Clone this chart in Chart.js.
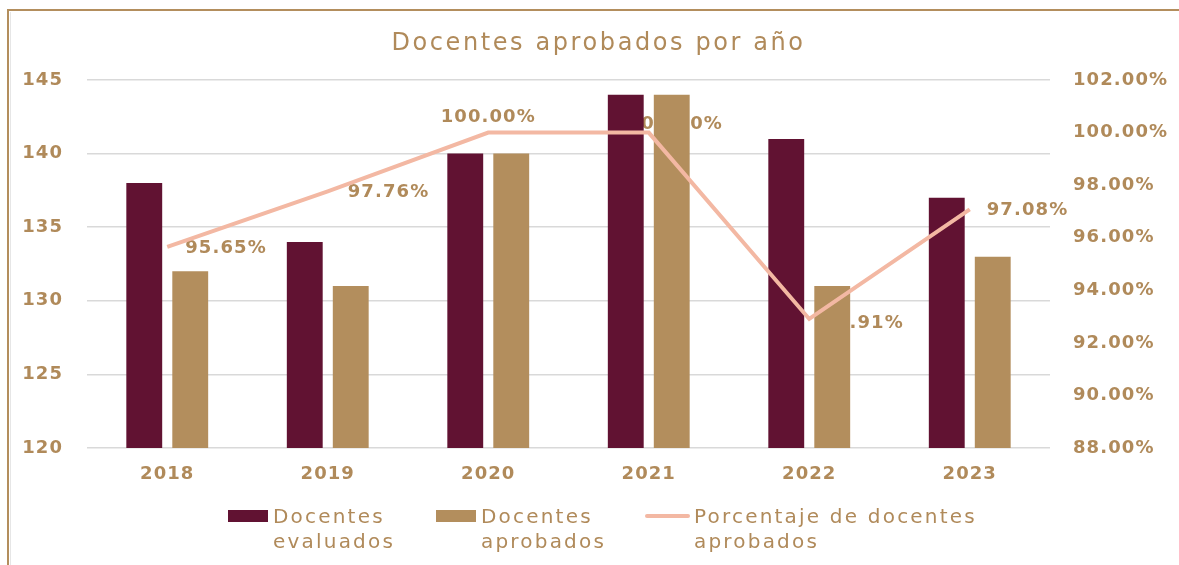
<!DOCTYPE html>
<html><head><meta charset="utf-8">
<script src="https://cdn.jsdelivr.net/npm/chart.js@4/dist/chart.umd.min.js"></script>
<style>
html,body{margin:0;padding:0;background:#fff;}
#wrap{position:relative;width:1179px;height:565px;overflow:hidden;background:#fff;}
#frame{position:absolute;left:7px;top:9px;width:1300px;height:700px;border-left:2px solid #B38E5D;border-top:2px solid #B38E5D;}
#frame2{position:absolute;left:10px;top:12px;width:1300px;height:700px;border-left:1px solid #e6e6e6;}
canvas{position:absolute;left:0;top:0;}
#title{position:absolute;left:18px;top:27px;width:1161px;text-align:center;font-family:"DejaVu Sans";font-size:24px;line-height:30px;color:#B08A5A;letter-spacing:2.6px;}
#legend{position:absolute;left:0;top:0;width:1179px;height:565px;pointer-events:none;font-family:"DejaVu Sans";font-size:20px;color:#B08A5A;letter-spacing:2.2px;}
.item{position:absolute;top:504px;}
.sw{position:absolute;}
.txt{position:absolute;top:0;line-height:25px;white-space:nowrap;}
</style></head>
<body>
<div id="wrap">
<div id="frame"></div><div id="frame2"></div>
<canvas id="c" width="1179" height="565"></canvas>
<div id="title"></div>
<div id="legend"></div>
</div>
<script>
const chartTitle = 'Docentes aprobados por año';
const categories = ['2018','2019','2020','2021','2022','2023'];
const evaluados = [138, 134, 140, 144, 141, 137];
const aprobados = [132, 131, 140, 144, 131, 133];
const porcentaje = [95.65, 97.76, 100.00, 100.00, 92.91, 97.08];
const leftTicks = [120, 125, 130, 135, 140, 145];
const rightTicks = [88, 90, 92, 94, 96, 98, 100, 102];

const MAROON = '#611232', GOLD = '#B38E5D', SALMON = '#F3B8A3', TEXT = '#B08A5A';
const FONT = 'DejaVu Sans';

// label placement (style only): dx, dy, align
const labelPlace = [[18,1,'left'],[20,1,'left'],[0,-15,'center'],[-21,-8,'left'],[13,4,'left'],[17,1,'left']];

const SP = '1.1px';
const spacing = {
  id:'spacing',
  beforeUpdate(c){c.ctx.letterSpacing=SP;},
  beforeLayout(c){c.ctx.letterSpacing=SP;},
  beforeDraw(c){c.ctx.letterSpacing=SP;}
};

const lineLabels = {
  id:'lineLabels',
  beforeDatasetsDraw(chart){
    const ctx = chart.ctx;
    const idx = chart.data.datasets.findIndex(d=>d.type==='line');
    const meta = chart.getDatasetMeta(idx);
    ctx.save();
    ctx.font = 'bold 18px "' + FONT + '"';
    ctx.fillStyle = TEXT;
    ctx.textBaseline = 'middle';
    meta.data.forEach((pt,i)=>{
      const p = labelPlace[i];
      ctx.textAlign = p[2];
      ctx.fillText(chart.data.datasets[idx].data[i].toFixed(2)+'%', pt.x+p[0], pt.y+p[1]);
    });
    ctx.restore();
  }
};

const tickFont = {family:FONT, size:18, weight:'bold'};

const chart = new Chart(document.getElementById('c'), {
  data:{
    labels: categories,
    datasets:[
      {type:'bar', label:'Docentes evaluados', data:evaluados, backgroundColor:MAROON, yAxisID:'y', order:2, barPercentage:0.78, categoryPercentage:0.573},
      {type:'bar', label:'Docentes aprobados', data:aprobados, backgroundColor:GOLD, yAxisID:'y', order:2, barPercentage:0.78, categoryPercentage:0.573},
      {type:'line', label:'Porcentaje de docentes aprobados', data:porcentaje, borderColor:SALMON, borderWidth:4, pointRadius:0, tension:0, yAxisID:'y1', order:0}
    ]
  },
  options:{
    responsive:false, animation:false, devicePixelRatio:1,
    layout:{padding:{top:80}},
    plugins:{ legend:{display:false}, tooltip:{enabled:false}, title:{display:false} },
    scales:{
      x:{grid:{display:false, drawTicks:false}, border:{display:false},
         ticks:{color:TEXT, font:tickFont, padding:16},
         afterFit(s){s.height=117;}},
      y:{position:'left', min:120, max:145,
         afterBuildTicks(s){s.ticks = leftTicks.map(v=>({value:v}));},
         grid:{color:'#d9d9d9', lineWidth:1.5, drawTicks:false}, border:{display:false},
         ticks:{color:TEXT, font:tickFont, padding:24},
         afterFit(s){s.width=87;}},
      y1:{position:'right', min:88, max:102,
         afterBuildTicks(s){s.ticks = rightTicks.map(v=>({value:v}));},
         grid:{display:false, drawTicks:false}, border:{display:false},
         ticks:{color:TEXT, font:tickFont, padding:23, callback:v=>v.toFixed(2)+'%'},
         afterFit(s){s.width=129;}}
    }
  },
  plugins:[spacing, lineLabels]
});

document.getElementById('title').textContent = chartTitle;

// HTML legend built from the datasets
const legendX = [228, 436, 645];
const legendLines = [['Docentes','evaluados'],['Docentes','aprobados'],['Porcentaje de docentes','aprobados']];
const lg = document.getElementById('legend');
chart.data.datasets.forEach((ds,i)=>{
  const it = document.createElement('div'); it.className='item'; it.style.left = legendX[i]+'px';
  const sw = document.createElement('div'); sw.className='sw';
  if(ds.type==='line'){ sw.style.cssText='left:0;top:10px;width:45px;height:4px;border-radius:2px;background:'+ds.borderColor; }
  else { sw.style.cssText='left:0;top:6px;width:40px;height:12px;background:'+ds.backgroundColor; }
  const tx = document.createElement('div'); tx.className='txt';
  tx.style.left = (ds.type==='line'?49:45)+'px';
  tx.innerHTML = legendLines[i].join('<br>');
  it.appendChild(sw); it.appendChild(tx); lg.appendChild(it);
});
</script>
</body></html>
